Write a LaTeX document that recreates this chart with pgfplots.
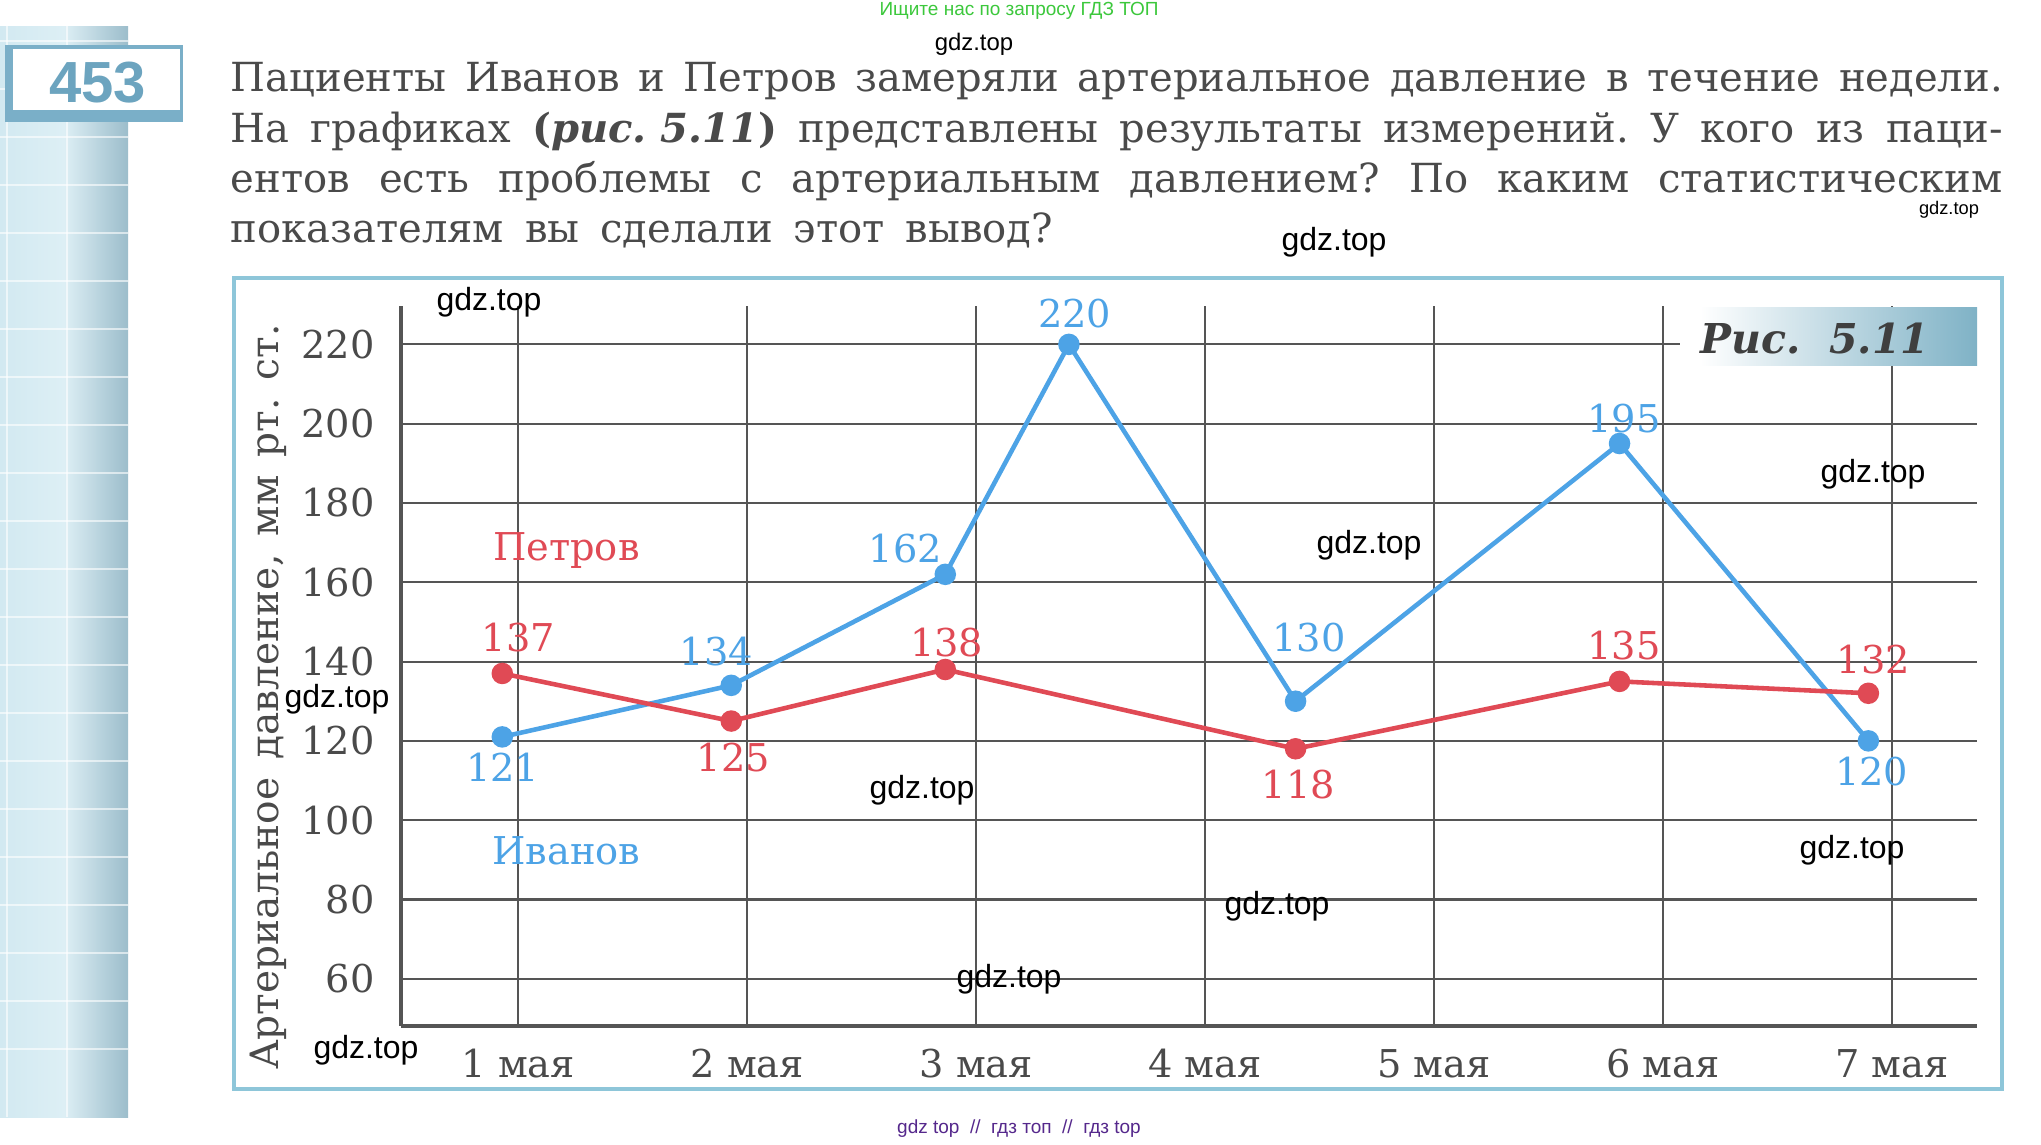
\documentclass[border=0pt]{standalone}
\usepackage{pgfplots}
\pgfplotsset{compat=1.18}
\usepackage{fontspec}
\setmainfont{DejaVu Serif}
\newfontfamily\wm{Liberation Sans}
\frenchspacing
\definecolor{ivblue}{HTML}{4DA3E6}
\definecolor{ptred}{HTML}{E04A55}
\definecolor{txtgray}{HTML}{4A4A4A}
\definecolor{gridgray}{HTML}{555555}
\definecolor{framebl}{HTML}{8EC6D9}
\definecolor{boxbl}{HTML}{7AAFC8}
\definecolor{numbl}{HTML}{6CA4BF}
\definecolor{ricbl}{HTML}{7FB2C6}
\definecolor{stripL}{HTML}{D2E9F1}
\definecolor{stripM}{HTML}{DDEFF5}
\definecolor{stripR}{HTML}{9CBDCB}
\definecolor{hgreen}{HTML}{3CC83C}
\definecolor{fpurple}{HTML}{55288C}
\newcommand{\fs}[1]{\fontsize{#1}{#1}\selectfont}
\tikzset{
  ivlab/.style={text=ivblue, font=\fs{10.9}, inner sep=0pt, anchor=center},
  ptlab/.style={text=ptred, font=\fs{10.9}, inner sep=0pt, anchor=center},
  wmk/.style={text=black, inner sep=0pt, anchor=center},
  line/.style={anchor=base west, inner sep=0pt, text=txtgray, font=\fs{11.4}}
}
\begin{document}
\begin{tikzpicture}
\begin{scope}[x=0.01cm,y=0.01cm]
\fill[white] (0,0) rectangle (2041,1144);
% left decorative strip
\shade[left color=stripL, right color=stripR, middle color=stripM] (0,27) rectangle (128,1118);
\foreach \xx in {7,67} \draw[white, opacity=0.6, line width=0.6pt] (\xx,27) -- (\xx,1118);
\foreach \yy in {95,143,...,1118} \draw[white, opacity=0.6, line width=0.6pt] (0,\yy) -- (128,\yy);
% 453 box
\fill[boxbl] (5,1022) rectangle (183,1099);
\fill[white] (13,1034) rectangle (180,1095);
\node[anchor=base, inner sep=0pt, text=numbl, font=\wm\bfseries\fs{16.5}] at (97.5,1042) {453};
% problem text
\node[line] at (230,1053) {\makebox[17.71cm][s]{Пациенты Иванов и Петров замеряли артериальное давление в течение недели.}};
\node[line] at (230,1002) {\makebox[17.71cm][s]{На графиках \hbox{\textbf{(\textit{рис. 5.11})}} представлены результаты измерений. У кого из паци-}};
\node[line] at (230,952) {\makebox[17.71cm][s]{ентов есть проблемы с артериальным давлением? По каким статистическим}};
\node[line] at (230,902) {\makebox[8.22cm][s]{показателям вы сделали этот вывод?}};
% chart frame
\draw[framebl, line width=0.9pt] (234,55) rectangle (2002,866);
% y label
\node[rotate=90, inner sep=0pt, text=txtgray, font=\fs{11.1}] at (268,447) {\makebox[7.45cm][s]{Артериальное давление, мм рт. ст.}};
\end{scope}

\begin{axis}[
  at={(4.01cm,1.18cm)}, anchor=south west,
  scale only axis, width=15.75cm, height=7.20cm,
  xmin=0.4886, xmax=7.372, ymin=48.1, ymax=229.8,
  axis lines=left,
  axis line style={-, line width=1.2pt, draw=gridgray},
  xtick={1,2,3,4,5,6,7},
  xticklabels={1 мая,2 мая,3 мая,4 мая,5 мая,6 мая,7 мая},
  ytick={60,80,100,120,140,160,180,200,220},
  grid=major,
  major grid style={line width=0.6pt, draw=gridgray},
  major tick length=0pt,
  tick label style={font=\fs{10.9}, text=txtgray},
  yticklabel style={anchor=east, inner sep=0pt, xshift=-0.26cm},
  xticklabel style={anchor=base, inner sep=0pt, yshift=-0.52cm},
  /pgf/number format/assume math mode=true,
  clip=false,
]
\addplot[color=ivblue, line width=1.3pt, mark=*, mark size=2.4pt, mark options={fill=ivblue, draw=ivblue}]
  coordinates {(0.93,121) (1.93,134) (2.865,162) (3.405,220) (4.395,130) (5.81,195) (6.897,120)};
\addplot[color=ptred, line width=1.3pt, mark=*, mark size=2.4pt, mark options={fill=ptred, draw=ptred}]
  coordinates {(0.93,137) (1.93,125) (2.865,138) (4.395,118) (5.81,135) (6.897,132)};
\node[ivlab] at (axis cs:0.932,113.3) {121};
\node[ivlab] at (axis cs:1.865,142.5) {134};
\node[ivlab] at (axis cs:2.690,168.4) {162};
\node[ivlab] at (axis cs:3.430,227.9) {220};
\node[ivlab] at (axis cs:4.453,146.1) {130};
\node[ivlab] at (axis cs:5.830,201.3) {195};
\node[ivlab] at (axis cs:6.911,112.2) {120};
\node[ptlab] at (axis cs:1.000,146.1) {137};
\node[ptlab] at (axis cs:1.940,115.9) {125};
\node[ptlab] at (axis cs:2.871,144.8) {138};
\node[ptlab] at (axis cs:4.408,109.0) {118};
\node[ptlab] at (axis cs:5.830,144.1) {135};
\node[ptlab] at (axis cs:6.918,140.5) {132};
\node[ptlab] at (axis cs:1.21,168) {Петров};
\node[ivlab] at (axis cs:1.21,92.3) {Иванов};
\end{axis}

\begin{scope}[x=0.01cm,y=0.01cm]
% figure caption box
\fill[white] (1680,779) rectangle (1977,837);
\shade[left color=white, right color=ricbl] (1700,779) rectangle (1977,837);
\node[anchor=base, inner sep=0pt, text=txtgray!85!black, font=\fs{11.7}\bfseries\itshape] at (1815,791) {Рис.\ \ 5.11};
% watermarks
\node[wmk, font=\wm\fs{6.8}] at (974,1100) {gdz.top};
\node[wmk, font=\wm\fs{9.1}] at (1334,902) {gdz.top};
\node[wmk, font=\wm\fs{5.2}] at (1949,934) {gdz.top};
\node[wmk, font=\wm\fs{9.1}] at (489,842) {gdz.top};
\node[wmk, font=\wm\fs{9.1}] at (1873,670) {gdz.top};
\node[wmk, font=\wm\fs{9.1}] at (1369,599) {gdz.top};
\node[wmk, font=\wm\fs{9.1}] at (337,445) {gdz.top};
\node[wmk, font=\wm\fs{9.1}] at (922,354) {gdz.top};
\node[wmk, font=\wm\fs{9.1}] at (1852,294) {gdz.top};
\node[wmk, font=\wm\fs{9.1}] at (1277,238) {gdz.top};
\node[wmk, font=\wm\fs{9.1}] at (1009,165) {gdz.top};
\node[wmk, font=\wm\fs{9.1}] at (366,94) {gdz.top};
% header and footer
\node[inner sep=0pt, text=hgreen, font=\wm\fs{5.4}] at (1019,1133) {Ищите нас по запросу ГДЗ ТОП};
\node[inner sep=0pt, text=fpurple, font=\wm\fs{5.4}] at (1019,15) {gdz top \ // \ гдз топ \ // \ гдз top};
\pgfresetboundingbox
\path[use as bounding box] (0,0) rectangle (2041,1144);
\end{scope}
\end{tikzpicture}
\end{document}
